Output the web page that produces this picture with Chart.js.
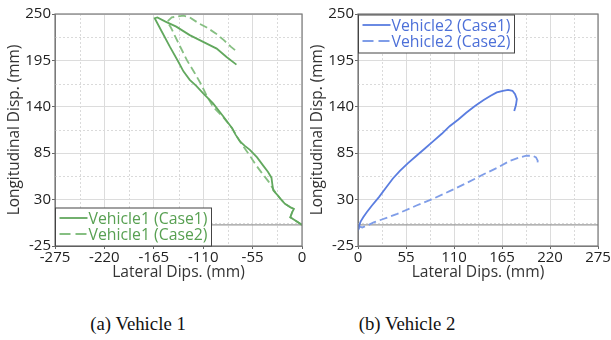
<!DOCTYPE html>
<html lang="en">
<head>
  <meta charset="utf-8" />
  <title>Vehicle displacement</title>
  <style>
body {
  margin: 0;
  background: #fff;
  width: 611px;
  height: 340px;
  position: relative;
  overflow: hidden;
}
.panel { position: absolute; top: 0; }
.panel canvas { display: block; }
#left { left: 0; }
#right { left: 303px; }
.caption {
  position: absolute;
  top: 313px;
  font-family: "Liberation Serif", "Times New Roman", serif;
  font-size: 18.8px;
  color: #111;
  transform: translateX(-50%);
  white-space: nowrap;
}
  </style>
</head>
<body>
  <div class="panel" id="left"><canvas id="chart1" width="310" height="290"></canvas></div>
  <div class="panel" id="right"><canvas id="chart2" width="308" height="290"></canvas></div>
  <div class="caption" style="left:138px">(a) Vehicle 1</div>
  <div class="caption" style="left:407px">(b) Vehicle 2</div>
  <script src="https://cdn.jsdelivr.net/npm/chart.js"></script>
  <script>

// axis ticks
const yTicks = [-25, 30, 85, 140, 195, 250];
const xTicksV1 = [-275, -220, -165, -110, -55, 0];
const xTicksV2 = [0, 55, 110, 165, 220, 275];

// Vehicle1
const v1Case1X = [0, -7, -13, -11, -9, -13, -19, -24, -27, -32, -33, -34, -38, -43, -50, -58, -64, -69, -74, -78,
  -88, -99, -110, -118, -125, -132, -138, -147, -156, -164, -161, -152, -140, -125, -110, -95, -84, -73];
const v1Case1Y = [0, 5, 9, 15, 19, 21, 25, 31, 35, 41, 48, 56, 63, 70, 80, 89, 94, 99, 107, 115,
  129, 144, 156, 165, 172, 182, 194, 211, 229, 245, 246, 241, 235, 225, 217, 209, 199, 190];
const v1Case2X = [0, -7, -13, -11, -9, -13, -19, -24, -28, -33, -37, -45, -52, -58, -66, -72, -78, -88, -99, -106,
  -113, -120, -128, -135, -141, -146, -150, -145, -139, -132, -125, -115, -106, -96, -87, -79, -72];
const v1Case2Y = [0, 5, 9, 15, 19, 21, 25, 31, 36, 44, 51, 62, 72, 82, 94, 104, 115, 128, 140, 153,
  168, 181, 195, 210, 223, 234, 241, 246, 247, 248, 246, 239, 234, 227, 219, 211, 205];

// Vehicle2
const v2Case1X = [0, 1, 3, 6, 10, 16, 24, 32, 40, 48, 57, 67, 76, 86, 96, 105, 115, 124, 134, 144,
  152, 159, 166, 172, 177, 180, 182, 181, 179];
const v2Case1Y = [0, -2, 4, 9, 15, 23, 33, 44, 55, 64, 73, 82, 90, 99, 108, 117, 125, 133, 141, 148,
  153, 157, 159, 160, 159, 155, 149, 142, 135];
const v2Case2X = [0, 2, 5, 10, 18, 29, 45, 67, 86, 105, 125, 144, 160, 174, 185, 193, 200, 204, 206, 205];
const v2Case2Y = [0, -2, -3, -1, 3, 7, 13, 23, 31, 40, 50, 60, 68, 76, 80, 82, 82, 80, 76, 70];

Chart.defaults.font.family = '"Open Sans", "Noto Sans", sans-serif';
Chart.defaults.color = '#222';

function pts(xs, ys) {
  return xs.map((x, i) => ({x: x, y: ys[i]}));
}
function mids(ticks) {
  let m = [];
  for (let i = 0; i < ticks.length - 1; i++) m.push((ticks[i] + ticks[i + 1]) / 2);
  return m;
}

// minor dotted grid, zero line, frame and the boxed legend
const framePlugin = {
  id: 'frame',
  beforeDatasetsDraw(chart) {
    const {ctx, chartArea: a, scales: {x, y}} = chart;
    ctx.save();
    ctx.strokeStyle = '#dadada';
    ctx.lineWidth = 1;
    ctx.setLineDash([2, 2]);
    for (let v of mids(chart.options.plugins.frame.xTicks)) {
      const px = Math.round(x.getPixelForValue(v)) + 0.5;
      ctx.beginPath(); ctx.moveTo(px, a.top); ctx.lineTo(px, a.bottom); ctx.stroke();
    }
    for (let v of mids(yTicks)) {
      const py = Math.round(y.getPixelForValue(v)) + 0.5;
      ctx.beginPath(); ctx.moveTo(a.left, py); ctx.lineTo(a.right, py); ctx.stroke();
    }
    ctx.setLineDash([]);
    ctx.strokeStyle = '#9a9a9a';
    ctx.lineWidth = 1.3;
    const zy = y.getPixelForValue(0);
    ctx.beginPath(); ctx.moveTo(a.left, zy); ctx.lineTo(a.right, zy); ctx.stroke();
    ctx.restore();
  },
  afterDatasetsDraw(chart) {
    const {ctx, chartArea: a} = chart;
    const o = chart.options.plugins.frame;
    ctx.save();
    ctx.strokeStyle = '#7a7a7a';
    ctx.lineWidth = 1.2;
    ctx.strokeRect(a.left, a.top, a.right - a.left, a.bottom - a.top);
    const w = 156, h = 38;
    const bx = a.left + 0.5;
    const by = o.legendAt === 'bottom' ? a.bottom - h : a.top + 1;
    ctx.fillStyle = '#fff';
    ctx.fillRect(bx, by, w, h);
    ctx.strokeStyle = '#444';
    ctx.lineWidth = 1;
    ctx.strokeRect(bx, by, w, h);
    ctx.font = '15.8px "Open Sans", sans-serif';
    ctx.textBaseline = 'middle';
    chart.data.datasets.forEach((ds, i) => {
      const ry = by + 10 + i * 16;
      ctx.strokeStyle = ds.borderColor;
      ctx.lineWidth = 1.8;
      ctx.setLineDash(ds.borderDash && ds.borderDash.length ? [11, 5] : []);
      ctx.beginPath(); ctx.moveTo(bx + 4, ry); ctx.lineTo(bx + 32, ry); ctx.stroke();
      ctx.setLineDash([]);
      ctx.fillStyle = o.textColor;
      ctx.fillText(ds.label, bx + 33, ry + 1);
    });
    ctx.restore();
  }
};

function makeChart(id, xTicks, datasets, legendAt, textColor, padRight) {
  return new Chart(document.getElementById(id), {
    type: 'scatter',
    data: {datasets: datasets},
    plugins: [framePlugin],
    options: {
      responsive: false,
      animation: false,
      events: [],
      layout: {padding: {top: 14, right: padRight, bottom: 0, left: 0}},
      plugins: {
        legend: {display: false},
        tooltip: {enabled: false},
        frame: {xTicks: xTicks, legendAt: legendAt, textColor: textColor}
      },
      scales: {
        x: {
          type: 'linear',
          min: xTicks[0],
          max: xTicks[xTicks.length - 1],
          afterBuildTicks: s => { s.ticks = xTicks.map(v => ({value: v})); },
          afterFit: s => { s.height = 44; },
          ticks: {padding: 0, font: {size: 15}, color: '#222', maxRotation: 0, autoSkip: false},
          grid: {color: '#dcdcdc', tickLength: 3, tickColor: '#666'},
          border: {color: '#7a7a7a'},
          title: {display: true, text: 'Lateral Dips. (mm)', font: {size: 15.6}, color: '#333', padding: {top: 0, bottom: 8}}
        },
        y: {
          type: 'linear',
          min: yTicks[0],
          max: yTicks[yTicks.length - 1],
          afterBuildTicks: s => { s.ticks = yTicks.map(v => ({value: v})); },
          afterFit: s => { s.width = 55; },
          ticks: {padding: 1, font: {size: 15}, color: '#222', autoSkip: false},
          grid: {color: '#dcdcdc', tickLength: 3, tickColor: '#666'},
          border: {color: '#7a7a7a'},
          title: {display: true, text: 'Longitudinal Disp. (mm)', font: {size: 15.4}, color: '#333', padding: {top: 5, bottom: 0}}
        }
      }
    }
  });
}

function line(label, xs, ys, color, dashed) {
  return {
    label: label,
    data: pts(xs, ys),
    showLine: true,
    borderColor: color,
    borderWidth: 1.8,
    borderDash: dashed ? [8, 4] : [],
    pointRadius: 0,
    fill: false,
    tension: 0
  };
}

makeChart('chart1', xTicksV1, [
  line('Vehicle1 (Case1)', v1Case1X, v1Case1Y, '#62a85e', false),
  line('Vehicle1 (Case2)', v1Case2X, v1Case2Y, '#86bf82', true)
], 'bottom', '#58a052', 8);

makeChart('chart2', xTicksV2, [
  line('Vehicle2 (Case1)', v2Case1X, v2Case1Y, '#5a7de0', false),
  line('Vehicle2 (Case2)', v2Case2X, v2Case2Y, '#7f9de8', true)
], 'top', '#4d70d8', 13);

  </script>
</body>
</html>
